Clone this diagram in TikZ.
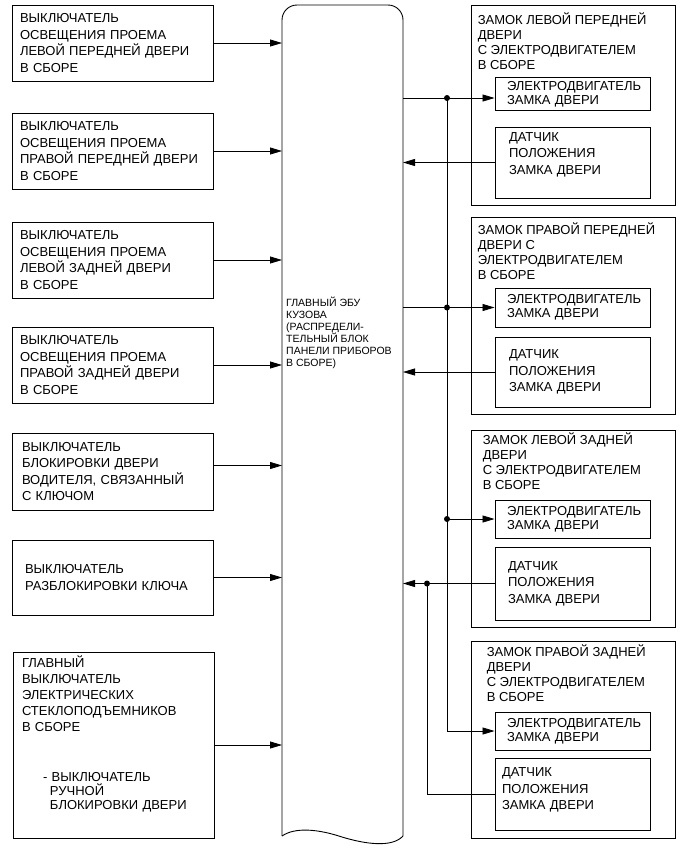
\documentclass[tikz,border=0pt]{standalone}
\usepackage{fontspec}
\setmainfont{Liberation Sans}
\usetikzlibrary{arrows.meta, positioning}
\tikzset{
	swbox/.style   ={rectangle, draw=black, line width=0.9pt, text width=185pt, inner xsep=8pt, minimum height=76pt, align=left, font=\fontsize{13}{16.5}\selectfont},
	lockbox/.style ={rectangle, draw=black, line width=0.9pt, minimum width=204pt, minimum height=197pt},
	locktitle/.style={inner sep=0pt, align=left, font=\fontsize{13}{15}\selectfont},
	motbox/.style  ={rectangle, draw=black, line width=0.9pt, text width=131pt, inner xsep=12pt, minimum height=38pt, align=left, font=\fontsize{13}{14}\selectfont},
	senbox/.style  ={rectangle, draw=black, line width=0.9pt, text width=127pt, inner xsep=14pt, minimum height=71pt, align=left, font=\fontsize{13}{16.5}\selectfont},
	ecutext/.style ={anchor=north west, inner sep=0pt, align=left, font=\fontsize{10.5}{12}\selectfont},
	sig/.style     ={-{Triangle[length=12pt, width=7pt]}, line width=0.8pt},
	wire/.style    ={line width=0.8pt},
}
\begin{document}
\begin{tikzpicture}[x=1pt, y=-1pt]
	\useasboundingbox (0,0) rectangle (691,855);
	% main ECU block
	\draw[line width=0.9pt, rounded corners=15pt] (282,836) -- (282,5) -- (403,5) -- (403,836);
	\draw[line width=0.9pt] (403,836) .. controls (392,848) and (365,844) .. (342,837) .. controls (318,829) and (295,827) .. (282,836);
	\coordinate (ecuL) at (282,420);
	\coordinate (ecuR) at (403,420);
	\node[ecutext] (ecu) at (286,297) {ГЛАВНЫЙ ЭБУ\\КУЗОВА\\(РАСПРЕДЕЛИ-\\ТЕЛЬНЫЙ БЛОК\\ПАНЕЛИ ПРИБОРОВ\\В СБОРЕ)};

	% switches
	\node[swbox] (sw1) at (112.5,43) {ВЫКЛЮЧАТЕЛЬ\\ОСВЕЩЕНИЯ ПРОЕМА\\ЛЕВОЙ ПЕРЕДНЕЙ ДВЕРИ\\В СБОРЕ};
	\node[swbox] (sw2) at (112.5,151) {ВЫКЛЮЧАТЕЛЬ\\ОСВЕЩЕНИЯ ПРОЕМА\\ПРАВОЙ ПЕРЕДНЕЙ ДВЕРИ\\В СБОРЕ};
	\node[swbox] (sw3) at (112.5,260) {ВЫКЛЮЧАТЕЛЬ\\ОСВЕЩЕНИЯ ПРОЕМА\\ЛЕВОЙ ЗАДНЕЙ ДВЕРИ\\В СБОРЕ};
	\node[swbox] (sw4) at (112.5,365) {ВЫКЛЮЧАТЕЛЬ\\ОСВЕЩЕНИЯ ПРОЕМА\\ПРАВОЙ ЗАДНЕЙ ДВЕРИ\\В СБОРЕ};
	\node[swbox, minimum height=77pt, text width=181pt, inner xsep=10pt] (sw5) at (112.5,471.5) {ВЫКЛЮЧАТЕЛЬ\\БЛОКИРОВКИ ДВЕРИ\\ВОДИТЕЛЯ, СВЯЗАННЫЙ\\С КЛЮЧОМ};
	\node[swbox, minimum height=75pt, text width=175pt, inner xsep=13pt] (sw6) at (112.5,577.5) {ВЫКЛЮЧАТЕЛЬ\\РАЗБЛОКИРОВКИ КЛЮЧА};
	\node[swbox, minimum height=186pt, text width=183pt, inner xsep=9pt, font=\fontsize{13}{16}\selectfont] (sw7) at (113.5,745)
		{ГЛАВНЫЙ\\ВЫКЛЮЧАТЕЛЬ\\ЭЛЕКТРИЧЕСКИХ\\СТЕКЛОПОДЪЕМНИКОВ\\В СБОРЕ\\[34pt]
		\hspace*{21pt}- ВЫКЛЮЧАТЕЛЬ\\[-2pt]\hspace*{28pt}РУЧНОЙ\\[-2pt]\hspace*{28pt}БЛОКИРОВКИ ДВЕРИ\\[8pt]\mbox{}};

	\foreach \n in {1,2,3,4,6,7}
		\draw[sig] (sw\n.east) -- (sw\n.east -| ecuL);
	\draw[sig] ([yshift=6pt]sw5.east) -- ([yshift=6pt]sw5.east -| ecuL);

	% door locks
	\node[lockbox, minimum height=200pt] (lockA) at (573,105) {};
	\node[lockbox] (lockB) at (573,315.5) {};
	\node[lockbox] (lockC) at (573,528.5) {};
	\node[lockbox] (lockD) at (573,739.5) {};
	\node[locktitle, below right=8pt and 7pt of lockA.north west] (titA) {ЗАМОК ЛЕВОЙ ПЕРЕДНЕЙ\\ДВЕРИ\\С ЭЛЕКТРОДВИГАТЕЛЕМ\\В СБОРЕ};
	\node[locktitle, below right=6pt and 7pt of lockB.north west] (titB) {ЗАМОК ПРАВОЙ ПЕРЕДНЕЙ\\ДВЕРИ С\\ЭЛЕКТРОДВИГАТЕЛЕМ\\В СБОРЕ};
	\node[locktitle, below right=3pt and 12pt of lockC.north west] (titC) {ЗАМОК ЛЕВОЙ ЗАДНЕЙ\\ДВЕРИ\\С ЭЛЕКТРОДВИГАТЕЛЕМ\\В СБОРЕ};
	\node[locktitle, below right=4pt and 16pt of lockD.north west] (titD) {ЗАМОК ПРАВОЙ ЗАДНЕЙ\\ДВЕРИ\\С ЭЛЕКТРОДВИГАТЕЛЕМ\\В СБОРЕ};

	\node[motbox, minimum height=28pt] (motA) at (572.5,94) {ЭЛЕКТРОДВИГАТЕЛЬ\\ЗАМКА ДВЕРИ};
	\node[motbox, minimum height=39pt] (motB) at (572.5,307.5) {ЭЛЕКТРОДВИГАТЕЛЬ\\ЗАМКА ДВЕРИ};
	\node[motbox] (motC) at (572.5,519) {ЭЛЕКТРОДВИГАТЕЛЬ\\ЗАМКА ДВЕРИ};
	\node[motbox] (motD) at (572.5,731) {ЭЛЕКТРОДВИГАТЕЛЬ\\ЗАМКА ДВЕРИ};

	\node[senbox] (senA) at (572.5,162.5) {ДАТЧИК\\ПОЛОЖЕНИЯ\\ЗАМКА ДВЕРИ\\[2pt]\mbox{}};
	\node[senbox, minimum height=70pt] (senB) at (572.5,372) {ДАТЧИК\\ПОЛОЖЕНИЯ\\ЗАМКА ДВЕРИ};
	\node[senbox, minimum height=73pt, text width=129pt, inner xsep=13pt] (senC) at (572.5,583.5) {ДАТЧИК\\ПОЛОЖЕНИЯ\\ЗАМКА ДВЕРИ};
	\node[senbox, minimum height=72pt, text width=141pt, inner xsep=7pt] (senD) at (572.5,794) {ДАТЧИК\\ПОЛОЖЕНИЯ\\ЗАМКА ДВЕРИ\\[-6pt]\mbox{}};

	% motor bus
	\coordinate (busA) at (447,98);
	\draw[sig] (busA -| ecuR) -- (busA -| motA.west);
	\draw[sig] (motB.west -| ecuR) -- (motB.west);
	\draw[sig] (motC.west -| busA) -- (motC.west);
	\draw[sig] (busA) |- (motD.west);
	\fill (busA) circle (3pt);
	\fill (motB.west -| busA) circle (3pt);
	\fill (motC.west -| busA) circle (3pt);

	% sensor lines
	\foreach \n in {A,B,C}
		\draw[sig] (sen\n.west) -- (sen\n.west -| ecuR);
	\coordinate (busS) at (senC.west -| 427,0);
	\draw[wire] (senD.west) -| (busS);
	\fill (busS) circle (3pt);
\end{tikzpicture}
\end{document}
